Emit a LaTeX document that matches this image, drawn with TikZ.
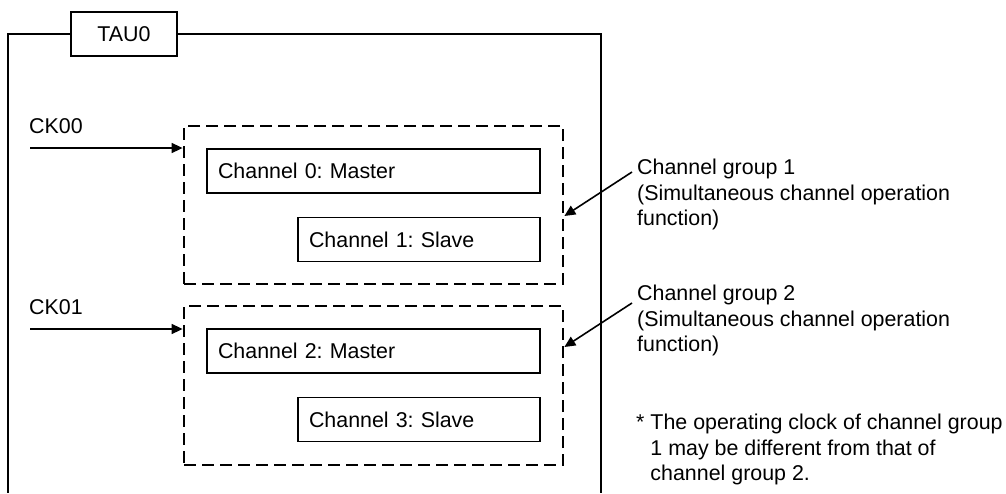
\documentclass[tikz,border=0pt]{standalone}
\usepackage{fontspec}
\setmainfont{Liberation Sans}
\usetikzlibrary{arrows.meta}
\frenchspacing
\begin{document}
\begin{tikzpicture}[x=1pt,y=-1pt,
  every node/.style={font=\fontsize{21.4}{25.5}\selectfont},
  frame/.style={line width=1.7pt},
  chbox/.style={draw,line width=1.7pt,minimum height=44pt,inner xsep=11pt,inner ysep=0pt,align=left,anchor=center},
  grp/.style={draw,line width=2.8pt,dash pattern=on 12pt off 6pt,minimum width=379pt,inner sep=0pt},
  arr/.style={line width=1.6pt,-{Triangle[length=11pt,width=10pt]}},
  lbl/.style={inner sep=0pt,anchor=base west},
  note/.style={inner sep=0pt,anchor=north west,align=left}]
\useasboundingbox (0,0) rectangle (1006,493);
\fill[white] (0,0) rectangle (1006,493);
% TAU0 title box and outer frame
\node[draw,frame,minimum width=106pt,minimum height=44pt,inner sep=0pt] (tau) at (124,34) {TAU0};
\coordinate (fbl) at (8,493);
\coordinate (fbr) at (601,493);
\draw[frame] (tau.west) -- (tau.west -| fbl) -- (fbl);
\draw[frame] (tau.east) -- (tau.east -| fbr) -- (fbr);
% channel groups
\node[grp,minimum height=158pt] (g1) at (373.5,205) {};
\node[grp,minimum height=159pt] (g2) at (373.5,385.5) {};
% channels
\node[chbox,text width=311pt] (c0) at (373.5,171) {Channel 0: Master};
\node[chbox,text width=220pt] (c1) at (419,239.5) {Channel 1: Slave};
\node[chbox,text width=311pt] (c2) at (373.5,351) {Channel 2: Master};
\node[chbox,text width=220pt] (c3) at (419,419.5) {Channel 3: Slave};
% clock inputs
\node[lbl] (ck0) at (29,133) {CK00};
\node[lbl] (ck1) at (29,314) {CK01};
\coordinate (ck0in) at (30,148);
\coordinate (ck1in) at (30,329);
\draw[arr] (ck0in) -- (ck0in -| g1.west);
\draw[arr] (ck1in) -- (ck1in -| g2.west);
% group annotations
\node[note] (n1) at (637,159) {Channel group 1\\(Simultaneous channel operation\\function)};
\node[note] (n2) at (637,285) {Channel group 2\\(Simultaneous channel operation\\function)};
\coordinate (a1) at (632,172);
\coordinate (a2) at (632,303);
\coordinate (t1) at (563,216);
\coordinate (t2) at (563,347);
\draw[arr] (a1) -- (t1 -| g1.east);
\draw[arr] (a2) -- (t2 -| g2.east);
% footnote
\node[note] (fn) at (636,414) {* The operating clock of channel group\\\phantom{*~}1 may be different from that of\\\phantom{*~}channel group 2.};
\end{tikzpicture}
\end{document}
